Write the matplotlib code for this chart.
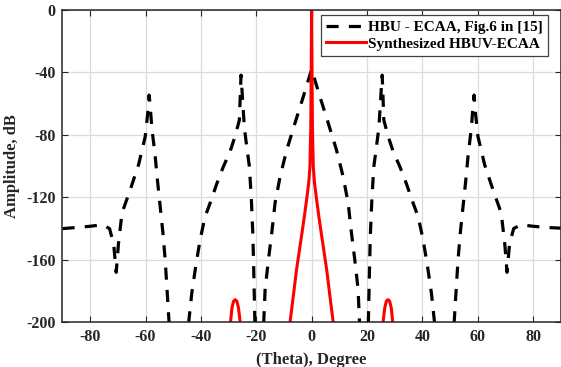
import numpy as np
import matplotlib
matplotlib.use("Agg")
import matplotlib.pyplot as plt

plt.rcParams["font.family"] = ["Liberation Serif", "DejaVu Serif"]
plt.rcParams["font.weight"] = "bold"
plt.rcParams["axes.unicode_minus"] = False

# Reference pattern: HBU-ECAA (dB vs. theta in degrees)
hbu_theta = [-90, -85, -80, -75.5, -73, -71.5, -70.6, -69.8, -68.5, -65.5, -62.5,
             -60.1, -59.2, -58.7, -58.3, -57.7, -56.6, -55.7, -54.7, -53.7, -52.9,
             -52.3, -51.5, -48, -44.4, -43.3, -41.8, -40.3, -38.5, -36.7, -34.2,
             -31.9, -29.5, -27.7, -26.1, -25.5, -25.0, -24.3, -23.4, -22.5, -21.8,
             -21.2, -20.8, -20.5, -19, -17.3, -16.8, -15.6, -14.4, -13.2, -11.4,
             -9.0, -6.0, -3.0, 0,
             3.0, 6.0, 9.0, 11.4, 13.2, 14.4, 15.6, 16.8, 17.3, 19, 20.5, 20.8,
             21.2, 21.8, 22.5, 23.4, 24.3, 25.0, 25.5, 26.1, 27.7, 29.5, 31.9,
             34.2, 36.7, 38.5, 40.3, 41.8, 43.3, 44.4, 48, 51.5, 52.3, 52.9, 53.7,
             54.7, 55.7, 56.6, 57.7, 58.3, 58.7, 59.2, 60.1, 62.5, 65.5, 68.5,
             69.8, 70.6, 71.5, 73, 75.5, 80, 85, 90]
hbu_db = [-140, -139.3, -138.5, -137.5, -140, -150, -168, -150, -130, -115, -99,
          -81, -66, -54.5, -62, -76, -92, -109, -126, -143, -160,
          -177, -200, -300, -200, -181.5, -163.3, -147.3, -132.4, -123.8, -111,
          -100.4, -90.8, -81.2, -70.5, -41.7, -55.5, -75.3, -88, -100, -120,
          -145, -175, -200, -300, -200, -179, -160, -142.8, -123.6, -106.8,
          -89.7, -72.4, -55.5, -38,
          -55.5, -72.4, -89.7, -106.8, -123.6, -142.8, -160, -179, -200, -300, -200, -175,
          -145, -120, -100, -88, -75.3, -55.5, -41.7, -70.5, -81.2, -90.8, -100.4,
          -111, -123.8, -132.4, -147.3, -163.3, -181.5, -200, -300, -200, -177, -160, -143,
          -126, -109, -92, -76, -62, -54.5, -66, -81, -99, -115, -130,
          -150, -168, -150, -140, -137.5, -138.5, -139.3, -139.7]

# Synthesized HBUV-ECAA pattern
syn_theta = [-90, -32, -29.3, -28.8, -28.2, -27.6, -27.0, -26.4, -25.8, -23,
             -10, -7.8, -6.6, -5.5, -4.5, -3.5, -2.6, -1.7, -1.0, -0.6, -0.3, -0.15, 0,
             0.15, 0.3, 0.6, 1.0, 1.7, 2.6, 3.5, 4.5, 5.5, 6.6, 7.8, 10,
             23, 25.8, 26.4, 27.0, 27.6, 28.2, 28.8, 29.3, 32, 90]
syn_db = [-300, -300, -200, -191, -186.5, -185.5, -186.5, -191, -200, -300,
          -300, -200, -183, -167, -155, -143, -132, -120, -110, -100, -75, -40, 0,
          -40, -75, -100, -110, -120, -132, -143, -155, -167, -183, -200, -300,
          -300, -200, -191, -186.5, -185.5, -186.5, -191, -200, -300, -300]

x_ticks = [-80, -60, -40, -20, 0, 20, 40, 60, 80]
y_ticks = [-200, -160, -120, -80, -40, 0]

fig = plt.figure(figsize=(5.61, 3.67), dpi=100)
ax = fig.add_axes([0.1114, 0.1218, 0.8881, 0.8510])

ax.plot(hbu_theta, hbu_db, color="black", linewidth=2.3,
        linestyle=(0, (3.8, 3.2)), label="HBU - ECAA, Fig.6 in [15]")
ax.plot(syn_theta, syn_db, color="red", linewidth=2.2,
        label="Synthesized HBUV-ECAA")

ax.set_xlim(-90, 90)
ax.set_ylim(-200, 0)
ax.set_xticks(x_ticks)
ax.set_yticks(y_ticks)
ax.tick_params(direction="in", length=4, width=0.8, top=True, right=True,
               labelsize=11.5, colors="#262626", pad=5)
for lbl in ax.get_xticklabels() + ax.get_yticklabels():
    lbl.set_fontweight("bold")
ax.grid(True, color="#dcdcdc", linewidth=0.9)
ax.set_axisbelow(True)
for s in ax.spines.values():
    s.set_color("#262626")
    s.set_linewidth(1.1)

ax.set_xlabel("(Theta), Degree", fontsize=12, fontweight="bold",
              color="#262626", labelpad=5)
ax.set_ylabel("Amplitude, dB", fontsize=12, fontweight="bold",
              color="#262626", labelpad=4)

leg = ax.legend(loc="upper right", bbox_to_anchor=(0.975, 0.984),
                borderaxespad=0, handlelength=2.6,
                handletextpad=0.15, labelspacing=0.2, borderpad=0.35,
                fancybox=False, framealpha=1, edgecolor="#404040",
                prop={"weight": "bold", "size": 11})
leg.get_frame().set_linewidth(0.9)

fig.savefig("out.png", dpi=100)
